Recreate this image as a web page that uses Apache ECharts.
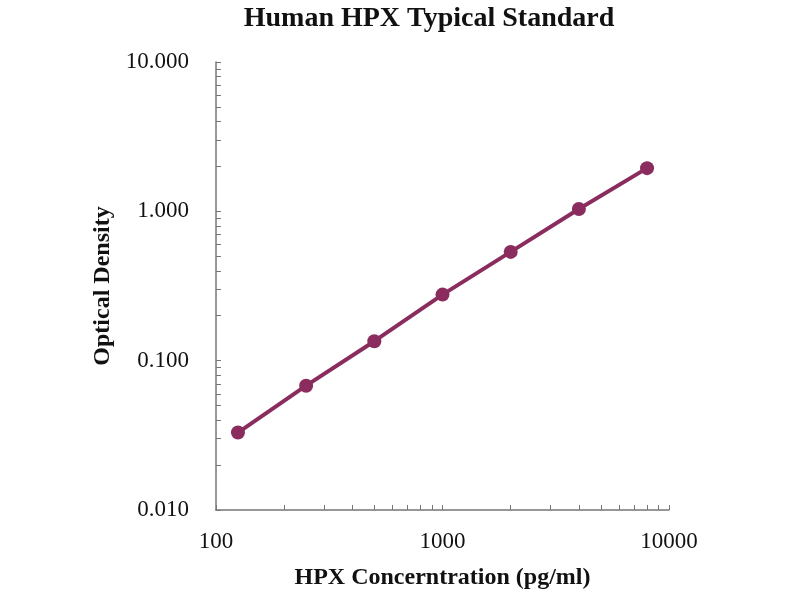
<!DOCTYPE html>
<html>
<head>
<meta charset="utf-8">
<script src="https://cdn.jsdelivr.net/npm/echarts@6/dist/echarts.min.js"></script>
<style>
  html, body { margin: 0; padding: 0; background: #fff; }
  #chart { width: 800px; height: 600px; }
</style>
</head>
<body>
<div id="chart"></div>
<script>
// standard curve points
var concentration = [125, 250, 500, 1000, 2000, 4000, 8000];
var opticalDensity = [0.033, 0.068, 0.135, 0.277, 0.535, 1.036, 1.946];

var xLabels = [100, 1000, 10000];
var yLabels = [0.01, 0.1, 1, 10];

function decadeTicks(lo, hi) {
  var out = [];
  for (var d = lo; d < hi; d *= 10) {
    for (var k = 1; k < 10; k++) out.push(+(d * k).toPrecision(3));
  }
  out.push(hi);
  return out;
}

var serif = 'Liberation Serif';
var chart = echarts.init(document.getElementById('chart'));

var points = concentration.map(function (c, i) { return [c, opticalDensity[i]]; });

chart.setOption({
  backgroundColor: '#fff',
  animation: false,
  title: {
    text: 'Human HPX Typical Standard',
    left: 424,
    textAlign: 'center',
    top: 0,
    textStyle: { fontFamily: serif, fontWeight: 'bold', fontSize: 28, color: '#111' }
  },
  grid: { left: 216, right: 131, top: 62, bottom: 90 },
  xAxis: {
    type: 'log',
    logBase: 10,
    min: 100,
    max: 10000,
    name: 'HPX Concerntration (pg/ml)',
    nameLocation: 'middle',
    nameGap: 56,
    nameTextStyle: { fontFamily: serif, fontWeight: 'bold', fontSize: 24, color: '#111' },
    axisLine: { lineStyle: { color: '#777', width: 1.5 } },
    axisTick: { inside: true, length: 5, lineStyle: { color: '#777' }, customValues: decadeTicks(100, 10000) },
    axisLabel: {
      margin: 20,
      fontFamily: serif, fontSize: 23, color: '#111',
      customValues: xLabels,
      formatter: function (v) { return String(Math.round(v)); }
    },
    splitLine: { show: false }
  },
  yAxis: {
    type: 'log',
    logBase: 10,
    min: 0.01,
    max: 10,
    name: 'Optical Density',
    nameLocation: 'middle',
    nameGap: 99,
    nameRotate: 90,
    nameTextStyle: { fontFamily: serif, fontWeight: 'bold', fontSize: 24, color: '#111' },
    axisLine: { show: true, lineStyle: { color: '#777', width: 1.5 } },
    axisTick: { show: true, inside: true, length: 5, lineStyle: { color: '#777' }, customValues: decadeTicks(0.01, 10) },
    axisLabel: {
      margin: 27,
      fontFamily: serif, fontSize: 23, color: '#111',
      customValues: yLabels,
      formatter: function (v) { return v.toFixed(3); }
    },
    splitLine: { show: false }
  },
  series: [{
    type: 'line',
    data: points,
    symbol: 'circle',
    symbolSize: 14,
    lineStyle: { color: '#8a2d5e', width: 4 },
    itemStyle: { color: '#8a2d5e' }
  }]
});
</script>
</body>
</html>
